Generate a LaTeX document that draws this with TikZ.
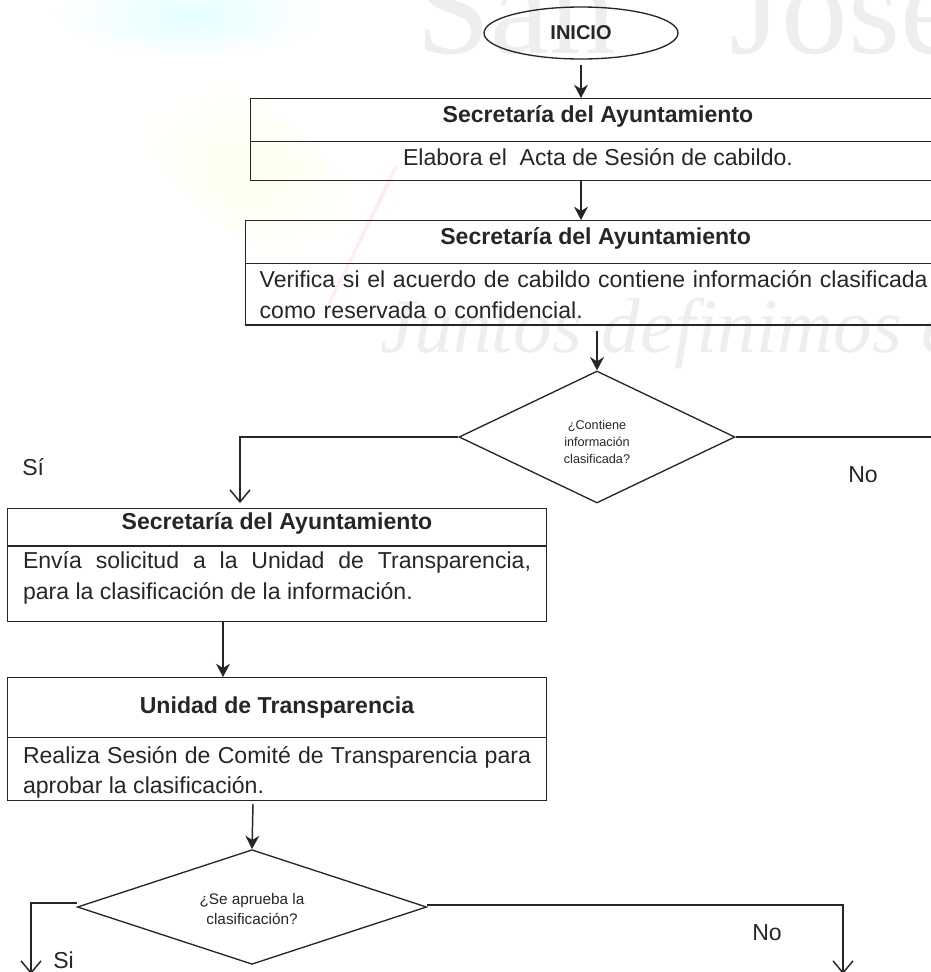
\documentclass[tikz,border=0pt]{standalone}
\usepackage{fontspec}
\setmainfont{Liberation Sans}
\newfontfamily\wmfont{Liberation Serif}
\usetikzlibrary{shapes.geometric,arrows.meta}
\definecolor{ink}{HTML}{262626}
\definecolor{wm}{HTML}{EEEEF0}
\tikzset{
  x=0.75pt,y=-0.75pt,
  every node/.style={text=ink,font=\fontsize{17.3}{23}\selectfont},
  box/.style={draw=ink,line width=1pt,rectangle,inner sep=0pt,anchor=north west},
  head/.style={box,align=center,text depth=9pt,font=\fontsize{17.3}{23}\selectfont\bfseries},
  bodytext/.style={box,align=justify,inner xsep=11.5pt},
  dec/.style={draw=ink,line width=1pt,diamond,inner sep=0pt,align=center},
  flow/.style={draw=ink,line width=1.1pt,-{Stealth[length=10pt,width=10.5pt]}},
  openflow/.style={draw=ink,line width=1.1pt,-{Straight Barb[length=9pt,width=15pt,line width=1.1pt]}},
  plain/.style={draw=ink,line width=1.1pt},
  lbl/.style={inner sep=0pt},
  water/.style={text=wm,inner sep=0pt}
}
\begin{document}
\begin{tikzpicture}
\useasboundingbox (0,0) rectangle (931,972);
\clip (0,0) rectangle (931,972);
% faint background
\shade[inner color=cyan!11,outer color=white] (190,16) ellipse [x radius=135,y radius=42];
\shade[inner color=yellow!6,outer color=white,rotate around={-40:(250,170)}] (250,170) ellipse [x radius=150,y radius=60];
\fill[red!7] (394,167) -- (398,167) -- (329,307) -- (326,307) -- cycle;
\node[water,anchor=base west,font=\wmfont\fontsize{100}{100}\selectfont] (wmtop) at (416,53) {San\hspace{60pt} José};
\node[water,anchor=base west,font=\wmfont\itshape\fontsize{58}{58}\selectfont] (wmlow) at (380,352) {Juntos definimos el};
% start
\node[draw=ink,line width=1pt,ellipse,minimum width=145.5pt,minimum height=39pt,inner sep=0pt,text depth=0pt,font=\fontsize{15}{16}\selectfont\bfseries] (start) at (581,33) {INICIO};
% box 1
\node[head,minimum width=521pt,minimum height=32pt] (h1) at (250,98) {Secretaría del Ayuntamiento};
\node[box,minimum width=521pt,minimum height=29pt,text depth=6pt] (b1) at (250,141) {Elabora el\ \ Acta de Sesión de cabildo.};
% box 2
\node[head,minimum width=525pt,minimum height=32pt] (h2) at (245,220) {Secretaría del Ayuntamiento};
\node[bodytext,align=left,inner xsep=10.5pt,text width=504pt,minimum height=46pt] (b2) at (245,263) {Verifica si el acuerdo de cabildo contiene información clasificada\\como reservada o confidencial.};
% decision 1
\node[dec,aspect=2.09,minimum width=207pt,minimum height=99pt,font=\fontsize{9.5}{12.8}\selectfont] (d1) at (597,437) {\rule{0pt}{14pt}¿Contiene\\información\\clasificada?};
\coordinate (d1in) at (597,331);
\coordinate (d1out) at (931,437);
\coordinate (t3) at (240,503);
% box 3
\node[head,minimum width=404pt,minimum height=28pt] (h3) at (7,508) {Secretaría del Ayuntamiento};
\node[bodytext,text width=381pt,minimum height=57pt,text depth=35pt] (b3) at (7,545) {Envía solicitud a la Unidad de Transparencia,\linebreak para la clasificación de la información.};
% box 4
\node[head,text depth=4pt,minimum width=404pt,minimum height=45pt] (h4) at (7,677) {Unidad de Transparencia};
\node[bodytext,text width=381pt,minimum height=47pt,text depth=21.5pt] (b4) at (7,737) {Realiza Sesión de Comité de Transparencia para\linebreak aprobar la clasificación.};
% decision 2
\node[dec,aspect=3.04,minimum width=262pt,minimum height=86pt,font=\fontsize{11.5}{15}\selectfont] (d2) at (252,907) {\rule{0pt}{11pt}¿Se aprueba la\\clasificación?};
\coordinate (siend) at (31,974);
\coordinate (noend) at (843,974);
% labels
\node[lbl,anchor=base west] (lsi) at (22,475) {Sí};
\node[lbl,anchor=base west] (lno) at (848,482) {No};
\node[lbl,anchor=base west] (lsi2) at (53,968) {Si};
\node[lbl,anchor=base west] (lno2) at (752,940) {No};
% connectors
\draw[flow] (start.south |- 0,65) -- (h1.north -| start);
\draw[flow] (b1.south -| start) -- (h2.north -| start);
\draw[flow] (d1in) -- (d1.north);
\draw[plain] (d1.east) -- (d1out);
\draw[openflow] (d1.west) -| (t3);
\draw[flow] (223,622) -- (223,677);
\draw[flow] (253,804) -- (d2.north);
\draw[openflow] ([yshift=3pt]d2.west) -| (siend);
\draw[openflow] ([yshift=1.5pt]d2.east) -| (noend);
\end{tikzpicture}
\end{document}
